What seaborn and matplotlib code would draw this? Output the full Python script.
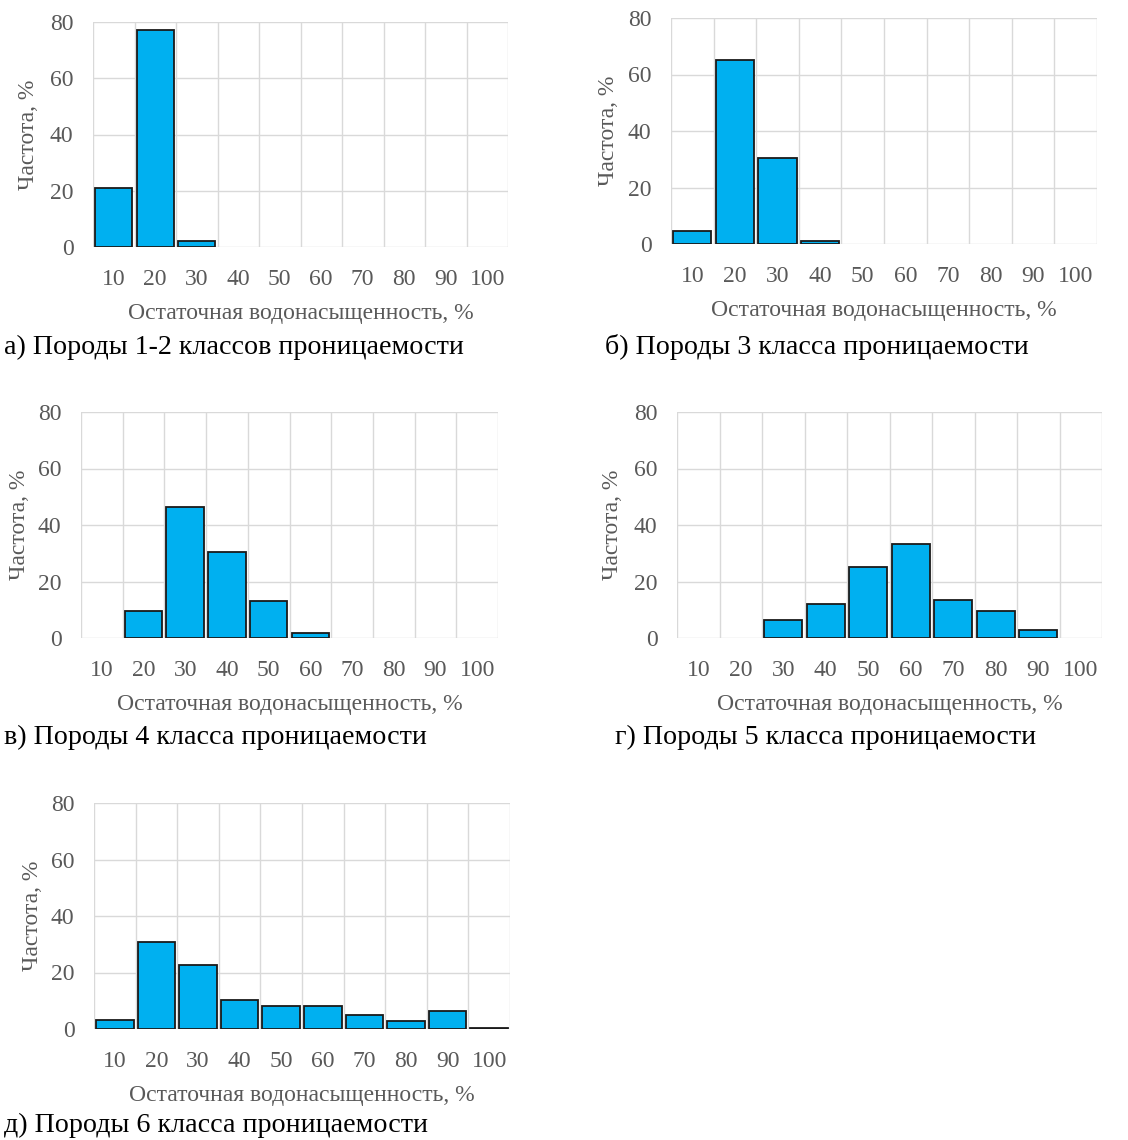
import matplotlib
matplotlib.use("Agg")
import matplotlib.pyplot as plt
import seaborn as sns
import pandas as pd
from matplotlib.ticker import FixedLocator

# Bin labels (residual water saturation, %)
bins = ["10", "20", "30", "40", "50", "60", "70", "80", "90", "100"]

# Frequency, % for each permeability class
freq_class_1_2 = [21, 77, 2, 0, 0, 0, 0, 0, 0, 0]
freq_class_3 = [4.5, 65, 30.3, 1, 0, 0, 0, 0, 0, 0]
freq_class_4 = [0, 9.6, 46.4, 30.3, 13, 1.9, 0, 0, 0, 0]
freq_class_5 = [0, 0, 6.2, 12.1, 25.2, 33.3, 13.3, 9.6, 2.7, 0]
freq_class_6 = [3.3, 30.9, 22.5, 10.2, 8.3, 8.3, 5.0, 3.0, 6.4, 0.4]

captions = [
    "а) Породы 1-2 классов проницаемости",
    "б) Породы 3 класса проницаемости",
    "в) Породы 4 класса проницаемости",
    "г) Породы 5 класса проницаемости",
    "д) Породы 6 класса проницаемости",
]

x_label = "Остаточная водонасыщенность, %"
y_label = "Частота, %"

sns.set_theme(style="white")
plt.rcParams["font.family"] = ["Liberation Serif", "DejaVu Serif"]

W, H = 1128, 1140
fig = plt.figure(figsize=(W / 100, H / 100), dpi=100)
fig.patch.set_facecolor("white")

# axes boxes in pixels: left, top, right, bottom
boxes = [
    (93, 22, 508, 247),
    (671, 18, 1097, 244),
    (81, 412, 498, 638),
    (677, 412, 1102, 638),
    (94, 803, 510, 1029),
]
# caption anchors (left x, center y) in pixels
cap_pos = [(4, 347), (605, 347), (4, 737), (615, 737), (4, 1125)]
# y-label centre x in pixels
ylab_x = [29, 609, 20, 613, 32]

series = [freq_class_1_2, freq_class_3, freq_class_4, freq_class_5, freq_class_6]

gray = "#595959"
grid_c = "#d9d9d9"
bar_c = "#00b0f0"

for vals, (l, t, r, b), cap, (cx, cy), yx in zip(series, boxes, captions, cap_pos, ylab_x):
    ax = fig.add_axes([l / W, 1 - b / H, (r - l) / W, (b - t) / H])
    df = pd.DataFrame({"bin": bins, "freq": vals})
    sns.barplot(data=df, x="bin", y="freq", order=bins, color=bar_c,
                saturation=1, width=0.9, edgecolor="#1a1a1a", linewidth=1.3,
                ax=ax, zorder=3)
    # empty bins carry no visible bar
    for p in ax.patches:
        if p.get_height() == 0:
            p.set_visible(False)
    ax.set_xlim(-0.5, len(bins) - 0.5)
    ax.set_ylim(0, 80)
    ax.set_yticks([0, 20, 40, 60, 80])
    ax.xaxis.set_minor_locator(FixedLocator([i - 0.5 for i in range(len(bins) + 1)]))
    ax.grid(False)
    ax.grid(axis="x", which="minor", color=grid_c, linewidth=1.0, zorder=0)
    ax.grid(axis="y", which="major", color=grid_c, linewidth=1.0, zorder=0)
    ax.set_axisbelow(True)
    for s in ax.spines.values():
        s.set_visible(False)
    ax.tick_params(axis="x", which="both", length=0, pad=16, labelsize=17, labelcolor=gray)
    ax.tick_params(axis="y", which="both", length=0, pad=14, labelsize=17, labelcolor=gray)
    ax.set_xlabel(x_label, fontsize=17, color=gray, labelpad=9)
    ax.set_ylabel(y_label, fontsize=17, color=gray, va="center")
    ax.yaxis.set_label_coords((yx - l) / (r - l), 0.5)
    fig.text(cx / W, 1 - cy / H, cap, fontsize=20.2, color="black",
             ha="left", va="center")

fig.savefig("out.png", dpi=100, facecolor="white")
